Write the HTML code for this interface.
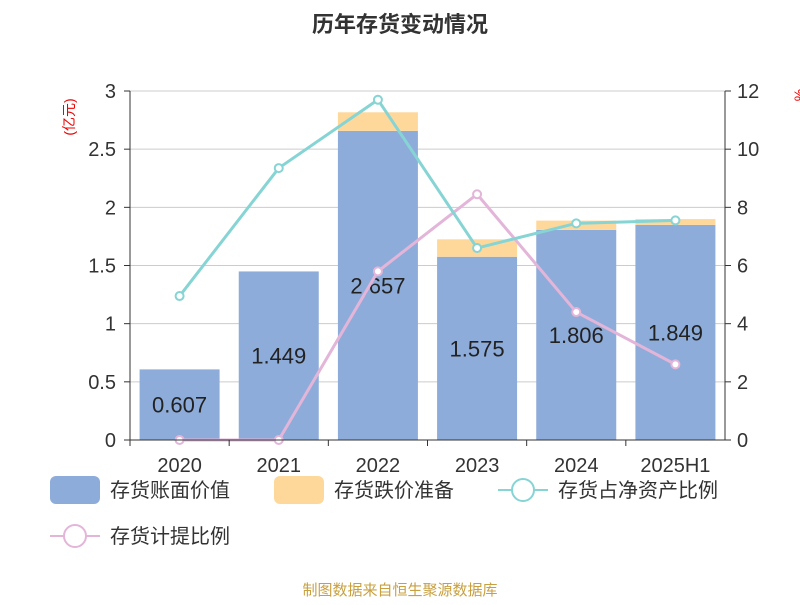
<!DOCTYPE html>
<html><head><meta charset="utf-8"><style>
body{margin:0;background:#fff;width:800px;height:600px;overflow:hidden;font-family:"Liberation Sans","Noto Sans CJK SC",sans-serif;}
</style></head><body>
<svg id="c" width="800" height="600" xmlns="http://www.w3.org/2000/svg">
<text x="400" y="32" text-anchor="middle" font-size="22" font-weight="bold" fill="#333" font-family="Liberation Sans,Noto Sans CJK SC,sans-serif">历年存货变动情况</text>
<text transform="translate(74,117) rotate(-90)" text-anchor="middle" font-size="14" fill="#e00" font-family="Liberation Sans,Noto Sans CJK SC,sans-serif">(亿元)</text>
<text transform="translate(804,95) rotate(-90)" text-anchor="middle" font-size="14" fill="#e00">%</text>
<g id="grid"></g><g id="bars"></g><g id="lines"></g><g id="axes"></g>
<g font-size="20" fill="#333" font-family="Liberation Sans,Noto Sans CJK SC,sans-serif">
<rect x="50" y="476" width="50" height="28" rx="6" fill="#8eacd9"/>
<text x="110" y="497">存货账面价值</text>
<rect x="274" y="476" width="50" height="28" rx="6" fill="#fed89b"/>
<text x="334" y="497">存货跌价准备</text>
<line x1="498" y1="490" x2="548" y2="490" stroke="#86d4d4" stroke-width="2"/><circle cx="523" cy="490" r="11" fill="#fff" stroke="#86d4d4" stroke-width="2"/>
<text x="558" y="497">存货占净资产比例</text>
<line x1="50" y1="536" x2="100" y2="536" stroke="#e3b5d9" stroke-width="2"/><circle cx="75" cy="536" r="11" fill="#fff" stroke="#e3b5d9" stroke-width="2"/>
<text x="110" y="543">存货计提比例</text>
</g>
<text x="400" y="595" text-anchor="middle" font-size="15" fill="#c8a040" font-family="Liberation Sans,Noto Sans CJK SC,sans-serif">制图数据来自恒生聚源数据库</text>
</svg>
<script>
const categories=["2020","2021","2022","2023","2024","2025H1"];
const bookValue=[0.607,1.449,2.657,1.575,1.806,1.849];
const reserve=[0,0,0.16,0.15,0.08,0.05];
const netAssetRatio=[4.95,9.35,11.7,6.6,7.45,7.55];
const provisionRatio=[0,0,5.8,8.45,4.4,2.6];
const leftTicks=["0","0.5","1","1.5","2","2.5","3"];
const rightTicks=["0","2","4","6","8","10","12"];
const NS="http://www.w3.org/2000/svg";
const L=130,R=725,T=91,B=440;
const step=(R-L)/categories.length;
const x=i=>L+step*(i+0.5);
const y=v=>B-(v/3)*(B-T);
const y2=v=>B-(v/12)*(B-T);
function mk(p,t,a){const e=document.createElementNS(NS,t);for(const k in a)e.setAttribute(k,a[k]);document.getElementById(p).appendChild(e);return e;}
leftTicks.forEach((t,i)=>{const v=+t,yy=y(v);
 const g=mk("grid","line",{x1:L,x2:R,y1:yy,y2:yy,stroke:"#ccc","stroke-width":1});
 
 
 const tl=mk("axes","text",{x:L-14,y:yy+7,"text-anchor":"end","font-size":20,fill:"#333"});tl.textContent=t;
 
 
 mk("axes","line",{x1:L-6,x2:L,y1:yy,y2:yy,stroke:"#333"});
});
rightTicks.forEach(t=>{const yy=y2(+t);
 const tl=mk("axes","text",{x:R+12,y:yy+7,"font-size":20,fill:"#333"});tl.textContent=t;
 
 
 mk("axes","line",{x1:R,x2:R+6,y1:yy,y2:yy,stroke:"#333"});
});
mk("axes","line",{x1:L,x2:L,y1:T,y2:B,stroke:"#333"});
mk("axes","line",{x1:R,x2:R,y1:T,y2:B,stroke:"#333"});
mk("axes","line",{x1:L,x2:R,y1:B,y2:B,stroke:"#333"});
const bw=80;
categories.forEach((c,i)=>{
 const b=mk("bars","rect",{x:x(i)-bw/2,y:y(bookValue[i]),width:bw,height:B-y(bookValue[i]),fill:"#8eacd9"});
 
 
 if(reserve[i]>0){const r=mk("bars","rect",{x:x(i)-bw/2,y:y(bookValue[i]+reserve[i]),width:bw,height:y(bookValue[i])-y(bookValue[i]+reserve[i]),fill:"#fed89b"});
 
 }
 const lb=mk("lines","text",{x:x(i),y:(y(bookValue[i])+B)/2+8,"text-anchor":"middle","font-size":22,fill:"#222"});lb.textContent=bookValue[i].toFixed(3);
 
 
 mk("axes","line",{x1:L+step*i,x2:L+step*i,y1:B,y2:B+6,stroke:"#333"});
 const xl=mk("axes","text",{x:x(i),y:B+32,"text-anchor":"middle","font-size":20,fill:"#333"});xl.textContent=c;
 
 
});
function series(vals,color,name){
 const p=mk("lines","polyline",{points:vals.map((v,i)=>x(i)+","+y2(v)).join(" "),fill:"none",stroke:color,"stroke-width":3});
 
 
 vals.forEach((v,i)=>{const c=mk("lines","circle",{cx:x(i),cy:y2(v),r:4,fill:"#fff",stroke:color,"stroke-width":2});
 
 });
}
series(provisionRatio,"#e3b5d9","provision-ratio");
series(netAssetRatio,"#86d4d4","net-asset-ratio");
</script>
</body></html>
